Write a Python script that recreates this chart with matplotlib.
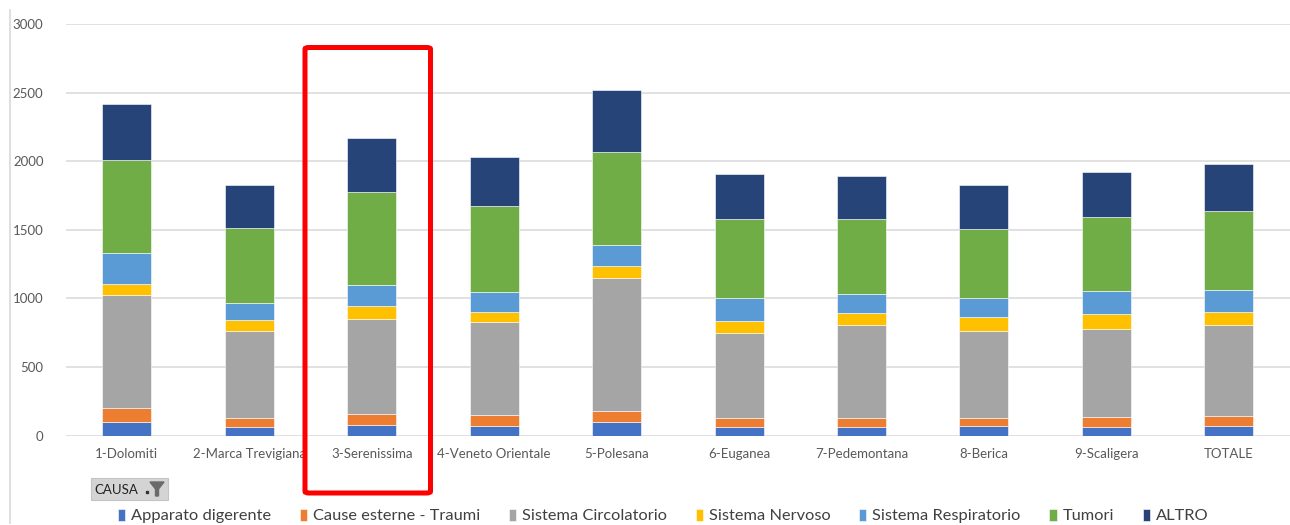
import matplotlib
matplotlib.use('Agg')
import matplotlib.pyplot as plt
import numpy as np
from matplotlib.patches import FancyBboxPatch, Polygon, Rectangle

plt.rcParams['font.family'] = ['Lato', 'DejaVu Sans']

ULSS = ['1-Dolomiti', '2-Marca Trevigiana', '3-Serenissima', '4-Veneto Orientale',
        '5-Polesana', '6-Euganea', '7-Pedemontana', '8-Berica', '9-Scaligera', 'TOTALE']

CAUSE = ['Apparato digerente', 'Cause esterne - Traumi', 'Sistema Circolatorio',
         'Sistema Nervoso', 'Sistema Respiratorio', 'Tumori', 'ALTRO']

apparato_digerente = [98, 63, 78, 73, 98, 63, 63, 68, 61, 68]
cause_esterne = [107, 69, 78, 76, 82, 69, 69, 64, 76, 78]
sistema_circolatorio = [819, 629, 698, 683, 966, 619, 678, 629, 643, 664]
sistema_nervoso = [78, 85, 90, 73, 88, 88, 83, 107, 108, 95]
sistema_respiratorio = [227, 122, 154, 141, 156, 163, 141, 134, 166, 154]
tumori = [683, 544, 678, 625, 676, 574, 546, 503, 539, 575]
altro = [403, 317, 395, 358, 453, 329, 310, 319, 327, 344]

COLORI = ['#4472C4', '#ED7D31', '#A5A5A5', '#FFC000', '#5B9BD5', '#70AD47', '#264478']

W, H = 1290, 525
fig = plt.figure(figsize=(W / 100, H / 100), dpi=100)
ax = fig.add_axes([65.7 / W, 1 - 435.7 / H, 1 - 65.7 / W, (435.7 - 24) / H])

serie = [apparato_digerente, cause_esterne, sistema_circolatorio, sistema_nervoso,
         sistema_respiratorio, tumori, altro]
x = np.arange(len(ULSS))
base = np.zeros(len(ULSS))
for nome, valori, colore in zip(CAUSE, serie, COLORI):
    ax.bar(x, valori, width=0.4, bottom=base, color=colore, label=nome,
           edgecolor='white', linewidth=0.4, zorder=3)
    base += np.array(valori)

ax.set_xlim(-0.5, len(ULSS) - 0.5)
ax.set_ylim(0, 3000)
ax.set_yticks(range(0, 3001, 500))
ax.set_xticks(x)
ax.set_xticklabels(ULSS)
ax.grid(axis='y', color='#d9d9d9', linewidth=1.1, zorder=0)
for s in ax.spines.values():
    s.set_visible(False)
ax.tick_params(axis='both', length=0, labelsize=9.5, colors='#595959')
ax.tick_params(axis='y', pad=16)
ax.tick_params(axis='x', pad=9)

# bordo sinistro dell'area del grafico
fig.add_artist(plt.Line2D([10 / W, 10 / W], [1 - 10 / H, 1 - 523 / H],
                          color='#d9d9d9', linewidth=1.2))

# pulsante campo "CAUSA"
fig.add_artist(FancyBboxPatch((91 / W, 1 - 500 / H), 77 / W, 22 / H,
                              boxstyle='square,pad=0', facecolor='#d4d4d4',
                              edgecolor='#c4c4c4', linewidth=0.8))
fig.text(94 / W, 1 - 489.5 / H, 'CAUSA', fontsize=9.5, color='#222222',
         va='center', ha='left')
fig.add_artist(Rectangle((146 / W, 1 - 493 / H), 2 / W, 2 / H, color='#333333'))
fig.add_artist(Polygon([(150 / W, 1 - 482 / H), (164 / W, 1 - 482 / H),
                        (158.5 / W, 1 - 489 / H), (158.5 / W, 1 - 496 / H),
                        (155.5 / W, 1 - 496 / H), (155.5 / W, 1 - 489 / H)],
                       closed=True, color='#6b6b6b'))

# evidenziazione
fig.add_artist(FancyBboxPatch((305 / W, 1 - 493 / H), 125.5 / W, 445.5 / H,
                              boxstyle='round,pad=0,rounding_size=0.003',
                              facecolor='none', edgecolor='#ff0000', linewidth=3.6))

fig.legend(loc='center', bbox_to_anchor=(0.514, 1 - 516 / H), ncol=7, frameon=False,
           fontsize=11.8, handlelength=0.45, handleheight=0.8, handletextpad=0.35,
           columnspacing=1.75, labelcolor='#404040')

fig.savefig('out.png', dpi=100)
